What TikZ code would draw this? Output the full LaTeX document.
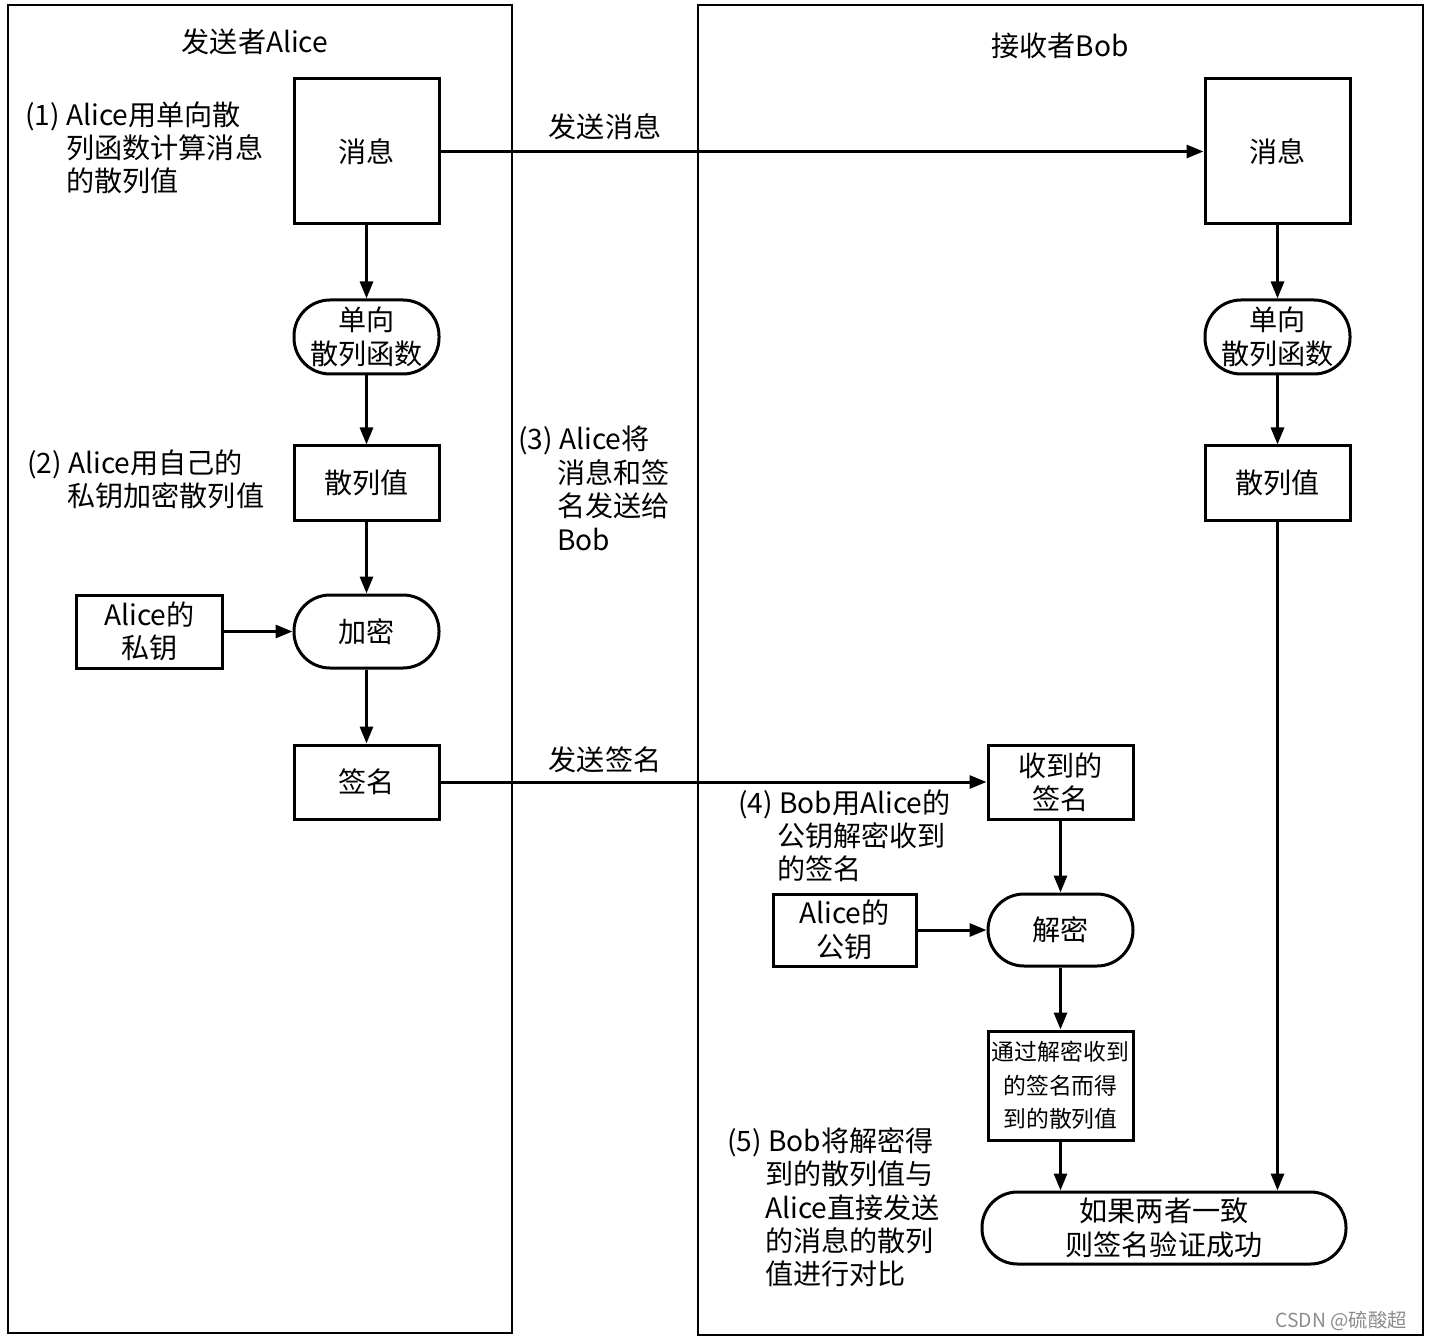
\documentclass[tikz,border=0pt]{standalone}
\usepackage{fontspec}
\setmainfont{Noto Sans CJK SC}
\usetikzlibrary{arrows.meta}

\begin{document}
\begin{tikzpicture}[x=0.2mm, y=-0.2mm,
		font=\fontsize{16}{19}\selectfont,
		box/.style={draw, line width=0.6mm, minimum width=29mm, minimum height=14.8mm, align=center, inner sep=0pt},
		proc/.style={box, rounded corners=7.2mm},
		note/.style={anchor=north west, align=left, inner sep=0pt},
		flow/.style={line width=0.6mm, -{Triangle[length=3.4mm, width=2.6mm]}}]
			%%%%% START %%%%%
			
			\useasboundingbox (0, 0) rectangle (1429, 1340);
			
			% the two parties
			\draw[line width=0.5mm] (8, 5) rectangle (512, 1333);
			\draw[line width=0.5mm] (698, 5) rectangle (1423, 1335);
			\node (titleA) at (255, 42) {发送者Alice};
			\node (titleB) at (1060, 46) {接收者Bob};
			
			% sender
			\node[box, minimum height=29mm] (msgA) at (366.5, 151.5) {消息};
			\node[proc] (hashfA) at (366.5, 337) {单向\\散列函数};
			\node[box] (hashA) at (366.5, 483) {散列值};
			\node[proc, minimum height=14.6mm] (encA) at (366.5, 631.5) {加密};
			\node[box, minimum height=14.6mm] (keyA) at (149.5, 631.5) {Alice的\\私钥};
			\node[box] (sigA) at (366.5, 782) {签名};
			
			% receiver
			\node[box, minimum height=29mm] (msgB) at (1277.5, 151.5) {消息};
			\node[proc] (hashfB) at (1277.5, 337) {单向\\散列函数};
			\node[box] (hashB) at (1277.5, 483) {散列值};
			\node[box] (sigB) at (1060.5, 782) {收到的\\签名};
			\node[proc, minimum height=14.4mm] (decB) at (1060.5, 930) {解密};
			\node[box, minimum width=28.6mm, minimum height=14.4mm] (keyB) at (844.5, 930) {Alice的\\公钥};
			\node[box, minimum height=21.8mm, font=\fontsize{13}{19}\selectfont] (digestB) at (1060.5, 1085.5) {通过解密收到\\的签名而得\\到的散列值};
			\node[proc, minimum width=72.8mm, minimum height=14.4mm, rounded corners=7.1mm] (verify) at (1164, 1228) {如果两者一致\\则签名验证成功};
			
			% steps
			\node[note] (step1) at (25, 101) {(1) Alice用单向散\\\hspace*{8.2mm}列函数计算消息\\\hspace*{8.2mm}的散列值};
			\node[note] (step2) at (27, 449) {(2) Alice用自己的\\\hspace*{8mm}私钥加密散列值};
			\node[note] (step3) at (518, 426) {(3) Alice将\\\hspace*{7.8mm}消息和签\\\hspace*{7.8mm}名发送给\\\hspace*{7.8mm}Bob};
			\node[note] (step4) at (738, 789) {(4) Bob用Alice的\\\hspace*{7.8mm}公钥解密收到\\\hspace*{7.8mm}的签名};
			\node[note] (step5) at (727, 1127) {(5) Bob将解密得\\\hspace*{7.6mm}到的散列值与\\\hspace*{7.6mm}Alice直接发送\\\hspace*{7.6mm}的消息的散列\\\hspace*{7.6mm}值进行对比};
			
			% arrows
			\draw[flow] (msgA) -- (msgB);
			\node (sendmsg) at (605, 127) {发送消息};
			\draw[flow] (sigA) -- (sigB);
			\node (sendsig) at (605, 760) {发送签名};
			
			\draw[flow] (msgA) -- (hashfA);
			\draw[flow] (hashfA) -- (hashA);
			\draw[flow] (hashA) -- (encA);
			\draw[flow] (keyA) -- (encA);
			\draw[flow] (encA) -- (sigA);
			
			\draw[flow] (msgB) -- (hashfB);
			\draw[flow] (hashfB) -- (hashB);
			\draw[flow] (sigB) -- (decB);
			\draw[flow] (keyB) -- (decB);
			\draw[flow] (decB) -- (digestB);
			\draw[flow] (digestB.south) -- (digestB.south |- verify.north);
			\draw[flow] (hashB.south) -- (hashB.south |- verify.north);
			
			\node[anchor=east, text=black!45, font=\fontsize{11}{13}\selectfont] (mark) at (1413, 1321) {CSDN @硫酸超};
			
			%%%%% END %%%%%
		\end{tikzpicture}
\end{document}
